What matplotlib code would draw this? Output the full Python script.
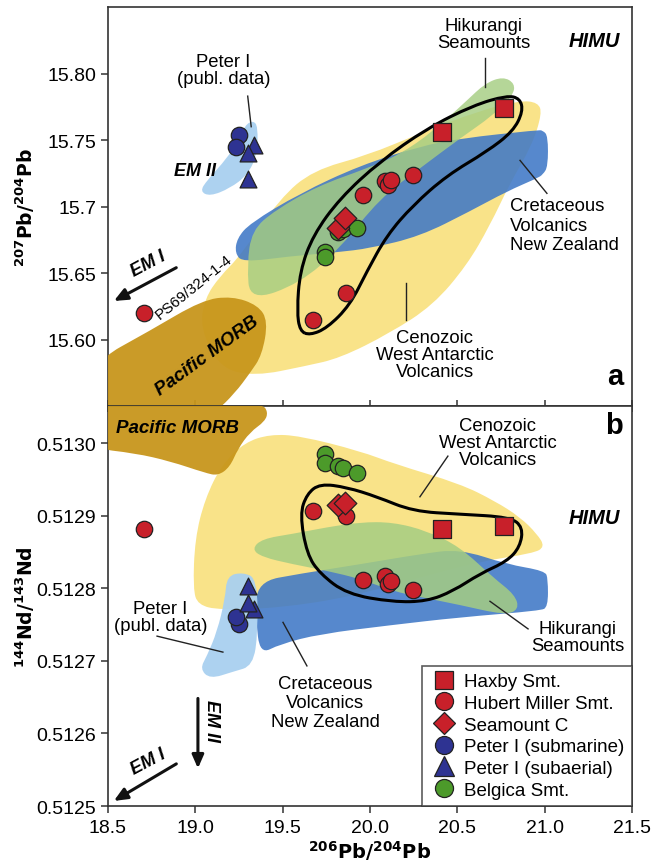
import numpy as np
import matplotlib
matplotlib.use("Agg")
import matplotlib.pyplot as plt
from matplotlib.path import Path
from matplotlib.patches import PathPatch
from matplotlib.lines import Line2D

plt.rcParams['font.family'] = ['Liberation Sans', 'DejaVu Sans']

# ---------------- sample data ----------------
haxby_pb206 = [20.41, 20.77]
haxby_pb207 = [15.756, 15.774]
haxby_nd = [0.512882, 0.512886]

hm_pb206 = [19.675, 19.864, 19.960, 20.086, 20.105, 20.122, 20.246, 18.707]
hm_pb207 = [15.615, 15.635, 15.709, 15.719, 15.716, 15.720, 15.724, 15.620]
hm_nd = [0.512907, 0.512899, 0.512812, 0.512817, 0.512806, 0.512810, 0.512798, 0.512882]

smc_pb206 = [19.818, 19.857]
smc_pb207 = [15.684, 15.691]
smc_nd = [0.512914, 0.512918]

p1sub_pb206 = [19.25, 19.235]
p1sub_pb207 = [15.7537, 15.745]
p1sub_nd = [0.512751, 0.512760]

p1aer_pb206 = [19.335, 19.303, 19.303]
p1aer_pb207 = [15.746, 15.740, 15.721]
p1aer_nd = [0.512771, 0.512780, 0.512803]

belg_pb206 = [19.742, 19.742, 19.818, 19.847, 19.924]
belg_pb207 = [15.666, 15.662, 15.681, 15.683, 15.684]
belg_nd = [0.512985, 0.512973, 0.512969, 0.512966, 0.512959]

# ---------------- field outlines (panel a: 206Pb/204Pb vs 207Pb/204Pb) ----------------
a_morb_x = [18.40, 18.40, 18.74, 19.038, 19.21, 19.359, 19.416, 19.382, 19.313, 19.227, 19.113, 18.9]
a_morb_y = [15.54, 15.582, 15.6066, 15.6296, 15.6326, 15.6258, 15.6138, 15.5883, 15.5748, 15.5598, 15.545, 15.54]

a_cwa_x = [19.055, 19.141, 19.256, 19.485, 19.674, 19.983, 20.286, 20.630, 20.859, 20.962, 20.985,
           20.927, 20.801, 20.687, 20.555, 20.361, 20.114, 19.828, 19.628, 19.342, 19.141, 19.027]
a_cwa_y = [15.6311, 15.6476, 15.6626, 15.7062, 15.7272, 15.7384, 15.7550, 15.7722, 15.7797, 15.7782, 15.7700,
           15.7459, 15.7174, 15.6859, 15.6559, 15.6258, 15.6048, 15.5860, 15.5800, 15.5725, 15.5785, 15.6086]

a_cnz_x = [19.239, 19.313, 19.599, 19.943, 20.286, 20.515, 20.960, 20.990, 21.019, 21.019, 20.990, 20.956,
           20.784, 20.572, 20.286, 20.000, 19.811, 19.542, 19.273, 19.227]
a_cnz_y = [15.6761, 15.6874, 15.7099, 15.7309, 15.7452, 15.7512, 15.7575, 15.7572, 15.7530, 15.7302, 15.7240,
           15.7212, 15.7114, 15.6964, 15.6776, 15.6686, 15.6656, 15.6626, 15.6581, 15.6649]

a_hik_x = [19.313, 19.296, 19.324, 19.456, 19.697, 19.983, 20.172, 20.361, 20.555, 20.658, 20.761,
           20.830, 20.819, 20.704, 20.515, 20.286, 20.057, 19.828, 19.599]
a_hik_y = [15.6288, 15.6559, 15.6821, 15.6971, 15.7152, 15.7287, 15.7392, 15.7565, 15.7797, 15.7925, 15.7977,
           15.7925, 15.7835, 15.7685, 15.7512, 15.7287, 15.7062, 15.6686, 15.6423]

a_pet_x = [19.027, 19.067, 19.181, 19.256, 19.284, 19.330, 19.359, 19.353, 19.296, 19.198, 19.084]
a_pet_y = [15.7114, 15.7197, 15.7362, 15.7512, 15.7610, 15.7647, 15.7602, 15.7384, 15.7234, 15.7137, 15.7077]

a_enc_x = [19.599, 19.582, 19.599, 19.674, 19.828, 20.057, 20.326, 20.590, 20.784, 20.859, 20.876,
           20.819, 20.670, 20.441, 20.246, 20.097, 19.983, 19.885, 19.754, 19.656]
a_enc_y = [15.6063, 15.6213, 15.6514, 15.6784, 15.7062, 15.7339, 15.7587, 15.7760, 15.7835, 15.7812, 15.7715,
           15.7565, 15.7414, 15.7234, 15.7009, 15.6784, 15.6514, 15.6258, 15.6086, 15.6033]

# ---------------- field outlines (panel b: 206Pb/204Pb vs Nd) ----------------
b_morb_x = [18.40, 19.027, 19.382, 19.416, 19.399, 19.313, 19.244, 19.198, 19.130, 19.055, 18.855, 18.655, 18.40]
b_morb_y = [0.513065, 0.513065, 0.513054, 0.513043, 0.513030, 0.513015, 0.512992, 0.512967, 0.512955, 0.512959,
            0.512975, 0.512986, 0.512993]

b_cwa_x = [18.987, 18.998, 19.055, 19.153, 19.284, 19.427, 19.599, 19.943, 20.143, 20.515, 20.716, 20.859,
           20.956, 21.002, 20.933, 20.630, 20.286, 19.885, 19.485, 19.141, 19.015]
b_cwa_y = [0.512799, 0.512868, 0.512923, 0.512971, 0.513001, 0.513012, 0.513010, 0.512989, 0.512971, 0.512944,
           0.512920, 0.512898, 0.512875, 0.512857, 0.512848, 0.512837, 0.512815, 0.512788, 0.512773, 0.512770,
           0.512777]

b_hik_x = [19.324, 19.382, 19.559, 19.754, 19.943, 20.132, 20.326, 20.515, 20.704, 20.830, 20.853, 20.773,
           20.515, 20.286, 20.132, 19.943, 19.754, 19.559, 19.382]
b_hik_y = [0.512854, 0.512868, 0.512875, 0.512884, 0.512891, 0.512891, 0.512879, 0.512857, 0.512815, 0.512791,
           0.512771, 0.512763, 0.512777, 0.512788, 0.512796, 0.512813, 0.512824, 0.512833, 0.512843]

b_cnz_x = [19.353, 19.599, 19.943, 20.286, 20.515, 20.784, 21.002, 21.019, 21.019, 20.973, 20.515, 20.114,
           19.714, 19.485, 19.370, 19.347]
b_cnz_y = [0.512809, 0.512820, 0.512833, 0.512847, 0.512854, 0.512833, 0.512824, 0.512813, 0.512774, 0.512769,
           0.512760, 0.512749, 0.512737, 0.512723, 0.512709, 0.512758]

b_pet_x = [19.181, 19.273, 19.353, 19.359, 19.330, 19.216, 19.084, 19.027, 19.067, 19.124, 19.170]
b_pet_y = [0.512817, 0.512822, 0.512813, 0.512740, 0.512693, 0.512685, 0.512675, 0.512689, 0.512707, 0.512740,
           0.512785]

b_enc_x = [19.599, 19.639, 19.714, 19.868, 20.040, 20.246, 20.515, 20.802, 20.876, 20.859, 20.784, 20.630,
           20.475, 20.326, 20.132, 19.868, 19.714, 19.639]
b_enc_y = [0.512902, 0.512930, 0.512944, 0.512939, 0.512926, 0.512906, 0.512902, 0.512898, 0.512884, 0.512857,
           0.512837, 0.512820, 0.512796, 0.512782, 0.512781, 0.512792, 0.512820, 0.512847]

x_ticks = [18.5, 19.0, 19.5, 20.0, 20.5, 21.0, 21.5]
x_ticklabels = ["18.5", "19.0", "19.5", "20.0", "20.5", "21.0", "21.5"]
a_yticks = [15.60, 15.65, 15.70, 15.75, 15.80]
a_yticklabels = ["15.60", "15.65", "15.7", "15.75", "15.80"]
b_yticks = [0.5125, 0.5126, 0.5127, 0.5128, 0.5129, 0.5130]
b_yticklabels = ["0.5125", "0.5126", "0.5127", "0.5128", "0.5129", "0.5130"]

# ---------------- styles ----------------
C_YEL = "#f8df74"
C_GRN = "#a5cd82"
C_BLU = "#3f78c6"
C_MORB = "#c8961c"
C_PET = "#a9d0f0"
C_RED = "#c8202a"
C_PBLUE = "#2e3392"
C_GREEN = "#4c9a2a"
EDGE = "#222222"


def smooth_patch(xs, ys, **kw):
    pts = np.column_stack([xs, ys])
    mids = (pts + np.roll(pts, -1, axis=0)) / 2.0
    verts = [mids[-1]]
    codes = [Path.MOVETO]
    for i in range(len(pts)):
        verts += [pts[i], mids[i]]
        codes += [Path.CURVE3, Path.CURVE3]
    return PathPatch(Path(verts, codes), **kw)


fig = plt.figure(figsize=(6.52, 8.62), dpi=100)
axA = fig.add_axes([0.1656, 0.5278, 0.8037, 0.4629])
axB = fig.add_axes([0.1656, 0.0638, 0.8037, 0.4640])

for ax in (axA, axB):
    for s in ax.spines.values():
        s.set_color("#333333")
        s.set_linewidth(1.2)
    ax.set_xlim(18.5, 21.5)
    ax.set_xticks(x_ticks)
    ax.tick_params(direction="out", length=5, width=1.1, color="#333333", labelsize=14)

# ---- panel a fields
axA.add_patch(smooth_patch(a_cwa_x, a_cwa_y, facecolor=C_YEL, edgecolor="none", alpha=0.85, zorder=1))
axA.add_patch(smooth_patch(a_cnz_x, a_cnz_y, facecolor=C_BLU, edgecolor="none", alpha=0.88, zorder=2))
axA.add_patch(smooth_patch(a_hik_x, a_hik_y, facecolor=C_GRN, edgecolor="none", alpha=0.82, zorder=3))
axA.add_patch(smooth_patch(a_morb_x, a_morb_y, facecolor=C_MORB, edgecolor="none", alpha=0.95, zorder=4))
axA.add_patch(smooth_patch(a_pet_x, a_pet_y, facecolor=C_PET, edgecolor="none", alpha=0.95, zorder=4))
axA.add_patch(smooth_patch(a_enc_x, a_enc_y, facecolor="none", edgecolor="black", linewidth=2.2, zorder=5))

# ---- panel b fields
axB.add_patch(smooth_patch(b_cwa_x, b_cwa_y, facecolor=C_YEL, edgecolor="none", alpha=0.85, zorder=1))
axB.add_patch(smooth_patch(b_cnz_x, b_cnz_y, facecolor=C_BLU, edgecolor="none", alpha=0.88, zorder=2))
axB.add_patch(smooth_patch(b_hik_x, b_hik_y, facecolor=C_GRN, edgecolor="none", alpha=0.85, zorder=3))
axB.add_patch(smooth_patch(b_morb_x, b_morb_y, facecolor=C_MORB, edgecolor="none", alpha=0.95, zorder=4))
axB.add_patch(smooth_patch(b_pet_x, b_pet_y, facecolor=C_PET, edgecolor="none", alpha=0.95, zorder=4))
axB.add_patch(smooth_patch(b_enc_x, b_enc_y, facecolor="none", edgecolor="black", linewidth=2.2, zorder=5))

# ---- samples
ms = 140
def plot_samples(ax, ycols):
    hx, hm, sc, ps, pa, bg = ycols
    ax.scatter(belg_pb206, bg, s=ms, marker="o", c=C_GREEN, edgecolors=EDGE, linewidths=0.9, zorder=6)
    ax.scatter(p1sub_pb206, ps, s=ms, marker="o", c=C_PBLUE, edgecolors=EDGE, linewidths=0.9, zorder=6)
    ax.scatter(p1aer_pb206, pa, s=ms * 1.05, marker="^", c=C_PBLUE, edgecolors=EDGE, linewidths=0.9, zorder=7)
    ax.scatter(hm_pb206, hm, s=ms, marker="o", c=C_RED, edgecolors=EDGE, linewidths=0.9, zorder=6)
    ax.scatter(smc_pb206, sc, s=ms * 0.95, marker="D", c=C_RED, edgecolors=EDGE, linewidths=0.9, zorder=7)
    ax.scatter(haxby_pb206, hx, s=ms * 1.15, marker="s", c=C_RED, edgecolors=EDGE, linewidths=0.9, zorder=7)

plot_samples(axA, (haxby_pb207, hm_pb207, smc_pb207, p1sub_pb207, p1aer_pb207, belg_pb207))
plot_samples(axB, (haxby_nd, hm_nd, smc_nd, p1sub_nd, p1aer_nd, belg_nd))

# ---- axes ranges / ticks
axA.set_ylim(15.55, 15.85)
axA.set_yticks(a_yticks)
axA.set_yticklabels(a_yticklabels)
axA.tick_params(axis="x", direction="inout", length=8, labelbottom=False)
axB.set_ylim(0.5125, 0.513051)
axB.set_yticks(b_yticks)
axB.set_yticklabels(b_yticklabels)
axB.set_xticklabels(x_ticklabels)
axB.tick_params(axis="x", pad=4)

axA.set_ylabel(r"$\mathbf{^{207}Pb/^{204}Pb}$", fontsize=13.5)
axB.set_ylabel(r"$\mathbf{^{144}Nd/^{143}Nd}$", fontsize=13.5)
axB.set_xlabel(r"$\mathbf{^{206}Pb/^{204}Pb}$", fontsize=14, labelpad=2)
axA.yaxis.set_label_coords(-0.135, 0.5)
axB.yaxis.set_label_coords(-0.135, 0.5)

# ---- annotations panel a
fs = 13.3
lw_lead = 1.0
axA.text(19.16, 15.803, "Peter I\n(publ. data)", ha="center", va="center", fontsize=fs, linespacing=1.0, zorder=8)
axA.plot([19.30, 19.32], [15.783, 15.760], color="#222222", lw=lw_lead, zorder=8)
axA.text(19.0, 15.727, "EM II", ha="center", va="center", fontsize=13, fontweight="bold", style="italic", zorder=8)
axA.annotate("", xy=(18.52, 15.628), xytext=(18.905, 15.655),
             arrowprops=dict(arrowstyle="-|>,head_length=0.8,head_width=0.35", color="#111111", lw=2.2), zorder=8)
axA.text(18.73, 15.657, "EM I", ha="center", va="center", fontsize=13, fontweight="bold", style="italic",
         rotation=28, zorder=8)
axA.text(18.78, 15.618, "PS69/324-1-4", ha="left", va="center", fontsize=11, rotation=39,
         rotation_mode="anchor", zorder=8)
axA.text(19.07, 15.588, "Pacific MORB", ha="center", va="center", fontsize=13.5, fontweight="bold",
         style="italic", rotation=36, zorder=8)
axA.text(20.65, 15.83, "Hikurangi\nSeamounts", ha="center", va="center", fontsize=fs, linespacing=1.0, zorder=8)
axA.plot([20.66, 20.66], [15.812, 15.790], color="#222222", lw=lw_lead, zorder=8)
axA.text(21.43, 15.825, "HIMU", ha="right", va="center", fontsize=14.5, fontweight="bold", style="italic", zorder=8)
axA.text(20.80, 15.686, "Cretaceous\nVolcanics\nNew Zealand", ha="left", va="center", fontsize=fs,
         linespacing=1.2, zorder=8)
axA.plot([20.859, 21.013], [15.7347, 15.7099], color="#222222", lw=lw_lead, zorder=8)
axA.text(20.37, 15.589, "Cenozoic\nWest Antarctic\nVolcanics", ha="center", va="center", fontsize=fs,
         linespacing=1.0, zorder=8)
axA.plot([20.205, 20.205], [15.6423, 15.6146], color="#222222", lw=lw_lead, zorder=8)
axA.text(21.45, 15.562, "a", ha="right", va="bottom", fontsize=21, fontweight="bold", zorder=8)

# ---- annotations panel b
axB.text(18.90, 0.513021, "Pacific MORB", ha="center", va="center", fontsize=13.5, fontweight="bold",
         style="italic", zorder=8)
axB.text(21.45, 0.513025, "b", ha="right", va="center", fontsize=21, fontweight="bold", zorder=8)
axB.text(20.73, 0.513001, "Cenozoic\nWest Antarctic\nVolcanics", ha="center", va="center", fontsize=fs,
         linespacing=1.0, zorder=8)
axB.plot([20.286, 20.446], [0.512926, 0.512982], color="#222222", lw=lw_lead, zorder=8)
axB.text(21.43, 0.512898, "HIMU", ha="right", va="center", fontsize=14.5, fontweight="bold", style="italic",
         zorder=8)
axB.text(21.19, 0.512733, "Hikurangi\nSeamounts", ha="center", va="center", fontsize=fs, linespacing=1.0,
         zorder=8)
axB.plot([20.687, 20.905], [0.512782, 0.512744], color="#222222", lw=lw_lead, zorder=8)
axB.text(18.80, 0.512760, "Peter I\n(publ. data)", ha="center", va="center", fontsize=fs, linespacing=1.0,
         zorder=8)
axB.plot([18.781, 19.158], [0.512734, 0.512712], color="#222222", lw=lw_lead, zorder=8)
axB.text(19.745, 0.512642, "Cretaceous\nVolcanics\nNew Zealand", ha="center", va="center", fontsize=fs,
         linespacing=1.15, zorder=8)
axB.plot([19.502, 19.639], [0.512753, 0.512693], color="#222222", lw=lw_lead, zorder=8)
axB.annotate("", xy=(19.015, 0.512548), xytext=(19.015, 0.512652),
             arrowprops=dict(arrowstyle="-|>,head_length=0.8,head_width=0.35", color="#111111", lw=2.2), zorder=8)
axB.text(19.09, 0.512618, "EM II", ha="center", va="center", fontsize=13, fontweight="bold", style="italic",
         rotation=-90, zorder=8)
axB.annotate("", xy=(18.52, 0.512505), xytext=(18.905, 0.512560),
             arrowprops=dict(arrowstyle="-|>,head_length=0.8,head_width=0.35", color="#111111", lw=2.2), zorder=8)
axB.text(18.73, 0.512562, "EM I", ha="center", va="center", fontsize=13, fontweight="bold", style="italic",
         rotation=28, zorder=8)

# ---- legend
handles = [
    Line2D([], [], ls="none", marker="s", ms=12.5, mfc=C_RED, mec=EDGE, mew=0.9),
    Line2D([], [], ls="none", marker="o", ms=13, mfc=C_RED, mec=EDGE, mew=0.9),
    Line2D([], [], ls="none", marker="D", ms=11, mfc=C_RED, mec=EDGE, mew=0.9),
    Line2D([], [], ls="none", marker="o", ms=13, mfc=C_PBLUE, mec=EDGE, mew=0.9),
    Line2D([], [], ls="none", marker="^", ms=14, mfc=C_PBLUE, mec=EDGE, mew=0.9),
    Line2D([], [], ls="none", marker="o", ms=13, mfc=C_GREEN, mec=EDGE, mew=0.9),
]
labels = ["Haxby Smt.", "Hubert Miller Smt.", "Seamount C", "Peter I (submarine)", "Peter I (subaerial)",
          "Belgica Smt."]
leg = axB.legend(handles, labels, loc="lower right", fontsize=13.5, frameon=True, fancybox=False,
                 borderaxespad=0.0, handletextpad=0.35, labelspacing=0.24, borderpad=0.4, handlelength=1.5)
leg.get_frame().set_edgecolor("#333333")
leg.get_frame().set_linewidth(1.2)
leg.set_zorder(10)

fig.savefig("out.png", dpi=100)
